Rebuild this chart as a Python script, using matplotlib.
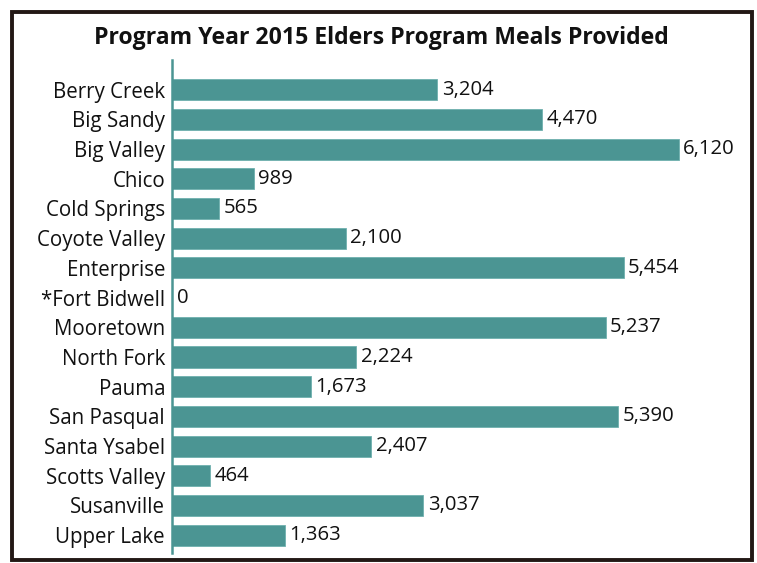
import matplotlib
matplotlib.use("Agg")
import matplotlib.pyplot as plt
from matplotlib.patches import Rectangle

categories = ["Berry Creek", "Big Sandy", "Big Valley", "Chico", "Cold Springs",
              "Coyote Valley", "Enterprise", "*Fort Bidwell", "Mooretown", "North Fork",
              "Pauma", "San Pasqual", "Santa Ysabel", "Scotts Valley", "Susanville",
              "Upper Lake"]
meals = [3204, 4470, 6120, 989, 565, 2100, 5454, 0, 5237, 2224, 1673, 5390,
         2407, 464, 3037, 1363]
title = "Program Year 2015 Elders Program Meals Provided"

W, H = 757, 563
fig = plt.figure(figsize=(W / 100, H / 100), dpi=100)
plt.rcParams['font.family'] = ['Open Sans', 'DejaVu Sans']

teal = "#4B9593"
ax = fig.add_axes([172 / W, 1 - 553 / H, 568 / W, (553 - 60) / H])
ypos = list(range(len(categories)))
ax.barh(ypos, meals, height=0.71, color=teal, edgecolor="#6fb0ae", linewidth=0.6)
ax.set_ylim(15.6, -1.0)
ax.set_xlim(0, 6860)
ax.set_yticks(ypos)
ax.set_yticklabels(categories, fontsize=14.8, color="#111111")
ax.tick_params(axis="y", length=0, pad=5)
ax.set_xticks([])
for s in ["top", "right", "bottom"]:
    ax.spines[s].set_visible(False)
ax.spines["left"].set_color(teal)
ax.spines["left"].set_linewidth(1.8)

for y, v in zip(ypos, meals):
    ax.text(v + 55, y, f"{v:,}", va="center", ha="left", fontsize=14.6, color="#111111")

fig.text(381 / W, 1 - 38 / H, title, ha="center", va="center",
         fontsize=16.6, fontweight="bold", color="#111111")

fig.patches.append(Rectangle((11.5 / W, 1 - 559.5 / H), (751.5 - 11.5) / W, (559.5 - 11.5) / H,
                             transform=fig.transFigure, fill=False,
                             edgecolor="#231815", linewidth=2.8))

fig.savefig("out.png", dpi=100, facecolor="white")
